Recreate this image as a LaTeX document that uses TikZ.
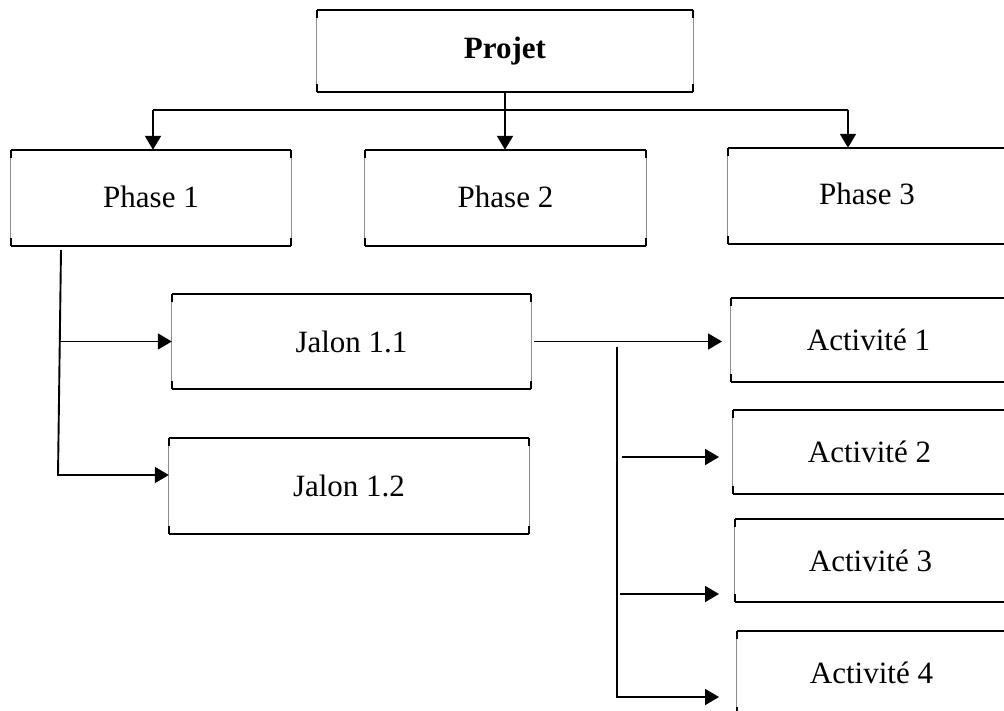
\documentclass[tikz,border=0pt]{standalone}
\usepackage{fontspec}
\setmainfont{Liberation Serif}
\usetikzlibrary{arrows.meta}
\begin{document}
\begin{tikzpicture}[x=1pt,y=-1pt,
  box/.style={rectangle, inner sep=0pt, font=\fontsize{31}{37}\selectfont},
  rim/.style={line width=1.7pt, black},
  side/.style={line width=0.7pt, black!45},
  tick/.style={line width=1.7pt, black},
  link/.style={line width=1.9pt, black},
  arr/.style={link, -{Triangle[length=14pt,width=16pt]}}]
\useasboundingbox (0,0) rectangle (1004,711);
\clip (0,0) rectangle (1004,711);

% boxes
\node[box, minimum width=376pt, minimum height=82pt] (pj) at (505,51) {\raisebox{-6pt}{\textbf{Projet}}};
\node[box, minimum width=280pt, minimum height=96pt] (p1) at (151,198) {\raisebox{2pt}{Phase 1}};
\node[box, minimum width=281pt, minimum height=96pt] (p2) at (505.5,198) {\raisebox{2pt}{Phase 2}};
\node[box, minimum width=278pt, minimum height=96pt] (p3) at (867,196) {\raisebox{4pt}{Phase 3}};
\node[box, minimum width=359pt, minimum height=95pt] (j1) at (351.5,341.5) {Jalon 1.1};
\node[box, minimum width=360pt, minimum height=96pt] (j2) at (349,486) {Jalon 1.2};
\node[box, minimum width=275pt, minimum height=84pt] (a1) at (868.5,340) {Activité 1};
\node[box, minimum width=273pt, minimum height=84pt] (a2) at (869.5,452) {Activité 2};
\node[box, minimum width=271pt, minimum height=83pt] (a3) at (870.5,560.5) {Activité 3};
\node[box, minimum width=269pt, minimum height=84pt] (a4) at (871.5,673) {\raisebox{-4pt}{Activité 4}};

% box outlines: strong top and bottom, light sides with dark corner ticks
\foreach \n in {pj,p1,p2,p3,j1,j2,a1,a2,a3,a4} {
  \draw[side] (\n.north west) -- (\n.south west);
  \draw[side] (\n.north east) -- (\n.south east);
  \draw[tick] (\n.north west) -- ++(0,8);
  \draw[tick] (\n.south west) -- ++(0,-8);
  \draw[tick] (\n.north east) -- ++(0,8);
  \draw[tick] (\n.south east) -- ++(0,-8);
  \draw[rim] (\n.north west) -- (\n.north east);
  \draw[rim] (\n.south west) -- (\n.south east);
}

% project to phases
\coordinate (barL) at (153,110);
\coordinate (barR) at (848,110);
\draw[link] (barL) -- (barR);
\draw[arr] (barL) -- (barL |- p1.north);
\draw[arr] (pj.south) -- (pj.south |- p2.north);
\draw[arr] (barR) -- (barR |- p3.north);

% phase 1 to milestones
\coordinate (s1) at (61,250);
\coordinate (k1) at (60,341.5);
\coordinate (t2) at (58,475);
\draw[arr] (s1) -- (t2) -- (t2 -| j2.west);
\draw[arr] (k1) -- (j1.west);

% milestone 1.1 to activities
\coordinate (gate) at (719,0);
\draw[arr] ([xshift=3pt]j1.east) -- ([xshift=3pt]j1.east -| gate);
\coordinate (s2) at (617,347);
\coordinate (s2b) at (617,697);
\coordinate (h2) at (622,457);
\coordinate (h3) at (620,594);
\draw[arr] (s2) -- (s2b) -- (s2b -| gate);
\draw[arr] (h2) -- (h2 -| gate);
\draw[arr] (h3) -- (h3 -| gate);
\end{tikzpicture}
\end{document}
